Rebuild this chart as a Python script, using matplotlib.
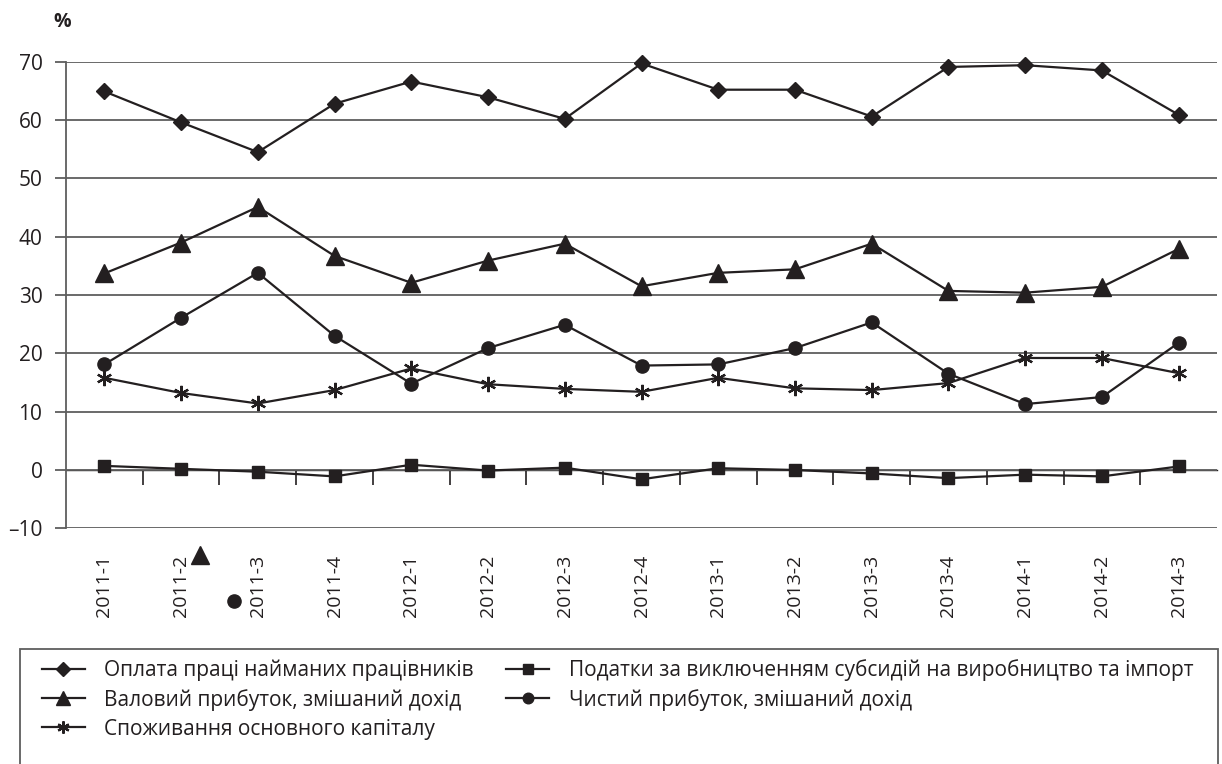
import matplotlib.pyplot as plt
from matplotlib.patches import Rectangle

quarters = ['2011-1', '2011-2', '2011-3', '2011-4', '2012-1', '2012-2', '2012-3', '2012-4',
            '2013-1', '2013-2', '2013-3', '2013-4', '2014-1', '2014-2', '2014-3']

wages = [64.9, 59.6, 54.5, 62.8, 66.6, 63.9, 60.2, 69.7, 65.2, 65.2, 60.6, 69.1, 69.4, 68.5, 60.9]
taxes = [0.7, 0.2, -0.3, -1.1, 0.9, -0.1, 0.4, -1.6, 0.3, 0.0, -0.6, -1.4, -0.8, -1.1, 0.6]
gross_profit = [33.7, 39.0, 45.1, 36.7, 32.1, 35.9, 38.8, 31.5, 33.8, 34.4, 38.8, 30.7, 30.4, 31.4, 37.9]
net_profit = [18.1, 26.1, 33.8, 23.0, 14.8, 20.9, 24.9, 17.9, 18.1, 20.9, 25.3, 16.5, 11.3, 12.5, 21.8]
consumption = [15.8, 13.2, 11.4, 13.7, 17.4, 14.7, 13.9, 13.4, 15.8, 14.0, 13.7, 14.9, 19.2, 19.2, 16.6]

labels = ['Оплата праці найманих працівників',
          'Валовий прибуток, змішаний дохід',
          'Споживання основного капіталу',
          'Податки за виключенням субсидій на виробництво та імпорт',
          'Чистий прибуток, змішаний дохід']

# stray legend markers that sit among the tick labels in the original
stray_triangle = (1.25, -14.6)
stray_circle = (1.69, -22.5)

plt.rcParams['font.family'] = ['Open Sans', 'DejaVu Sans']
ink = '#231f20'
grid = '#5e5e5e'

fig = plt.figure(figsize=(12.22, 7.64), dpi=100)
ax = fig.add_axes([66 / 1222, 1 - 528.3 / 764, 1151 / 1222, 466.6 / 764])

x = list(range(len(quarters)))
common = dict(color=ink, lw=1.6, clip_on=False, zorder=3)
l_wages, = ax.plot(x, wages, marker='D', ms=8.5, **common)
l_gross, = ax.plot(x, gross_profit, marker='^', ms=12.5, **common)
l_cons, = ax.plot(x, consumption, marker=(6, 2, 0), ms=11, mew=1.6, mec=ink, **common)
l_tax, = ax.plot(x, taxes, marker='s', ms=9, **common)
l_net, = ax.plot(x, net_profit, marker='o', ms=9.5, **common)

ax.plot(*stray_triangle, marker='^', ms=12.5, color=ink, clip_on=False, ls='none')
ax.plot(*stray_circle, marker='o', ms=9.5, color=ink, clip_on=False, ls='none')

ax.set_xlim(-0.5, len(quarters) - 0.5)
ax.set_ylim(-10, 70)
ax.set_yticks(range(-10, 71, 10))
ax.set_yticklabels(['–10'] + [str(v) for v in range(0, 71, 10)])
ax.yaxis.grid(True, color=grid, lw=1.3)
ax.set_axisbelow(True)
ax.tick_params(axis='y', length=8, width=1.3, color=grid, pad=9, labelsize=15, labelcolor=ink)

ax.set_xticks(x)
ax.set_xticklabels(quarters, rotation=90, va='top', ha='center')
ax.tick_params(axis='x', length=0, pad=19, labelsize=14, labelcolor=ink)

for side in ['top', 'right', 'bottom']:
	ax.spines[side].set_visible(False)
ax.spines['left'].set_color(grid)
ax.spines['left'].set_linewidth(1.3)

# category boundary ticks on the zero line
zero_axis = ax.secondary_xaxis(0, transform=ax.transData)
zero_axis.set_xticks([i + 0.5 for i in x[:-1]])
zero_axis.set_xticklabels([])
zero_axis.tick_params(length=11, width=1.2, color=ink, direction='out')
zero_axis.spines['bottom'].set_color(ink)
zero_axis.spines['bottom'].set_linewidth(1.0)

fig.text(62 / 1222, 1 - 22 / 764, '%', fontsize=14, fontweight='bold', color=ink, ha='center', va='center')

fig.legend([l_wages, l_gross, l_cons, l_tax, l_net], labels, ncol=2, frameon=False,
           loc='upper left', bbox_to_anchor=(42 / 1222, 1 - 659 / 764), borderaxespad=0,
           fontsize=15, handlelength=2.05, handletextpad=0.95, columnspacing=1.55,
           labelspacing=0.38, borderpad=0, markerscale=0.8, labelcolor=ink)
fig.patches.append(Rectangle((20 / 1222, -0.05), 1198 / 1222, 1.05 - 649 / 764,
                             transform=fig.transFigure, fill=False, ec=grid, lw=1.3))

plt.savefig('out.png', dpi=100)
